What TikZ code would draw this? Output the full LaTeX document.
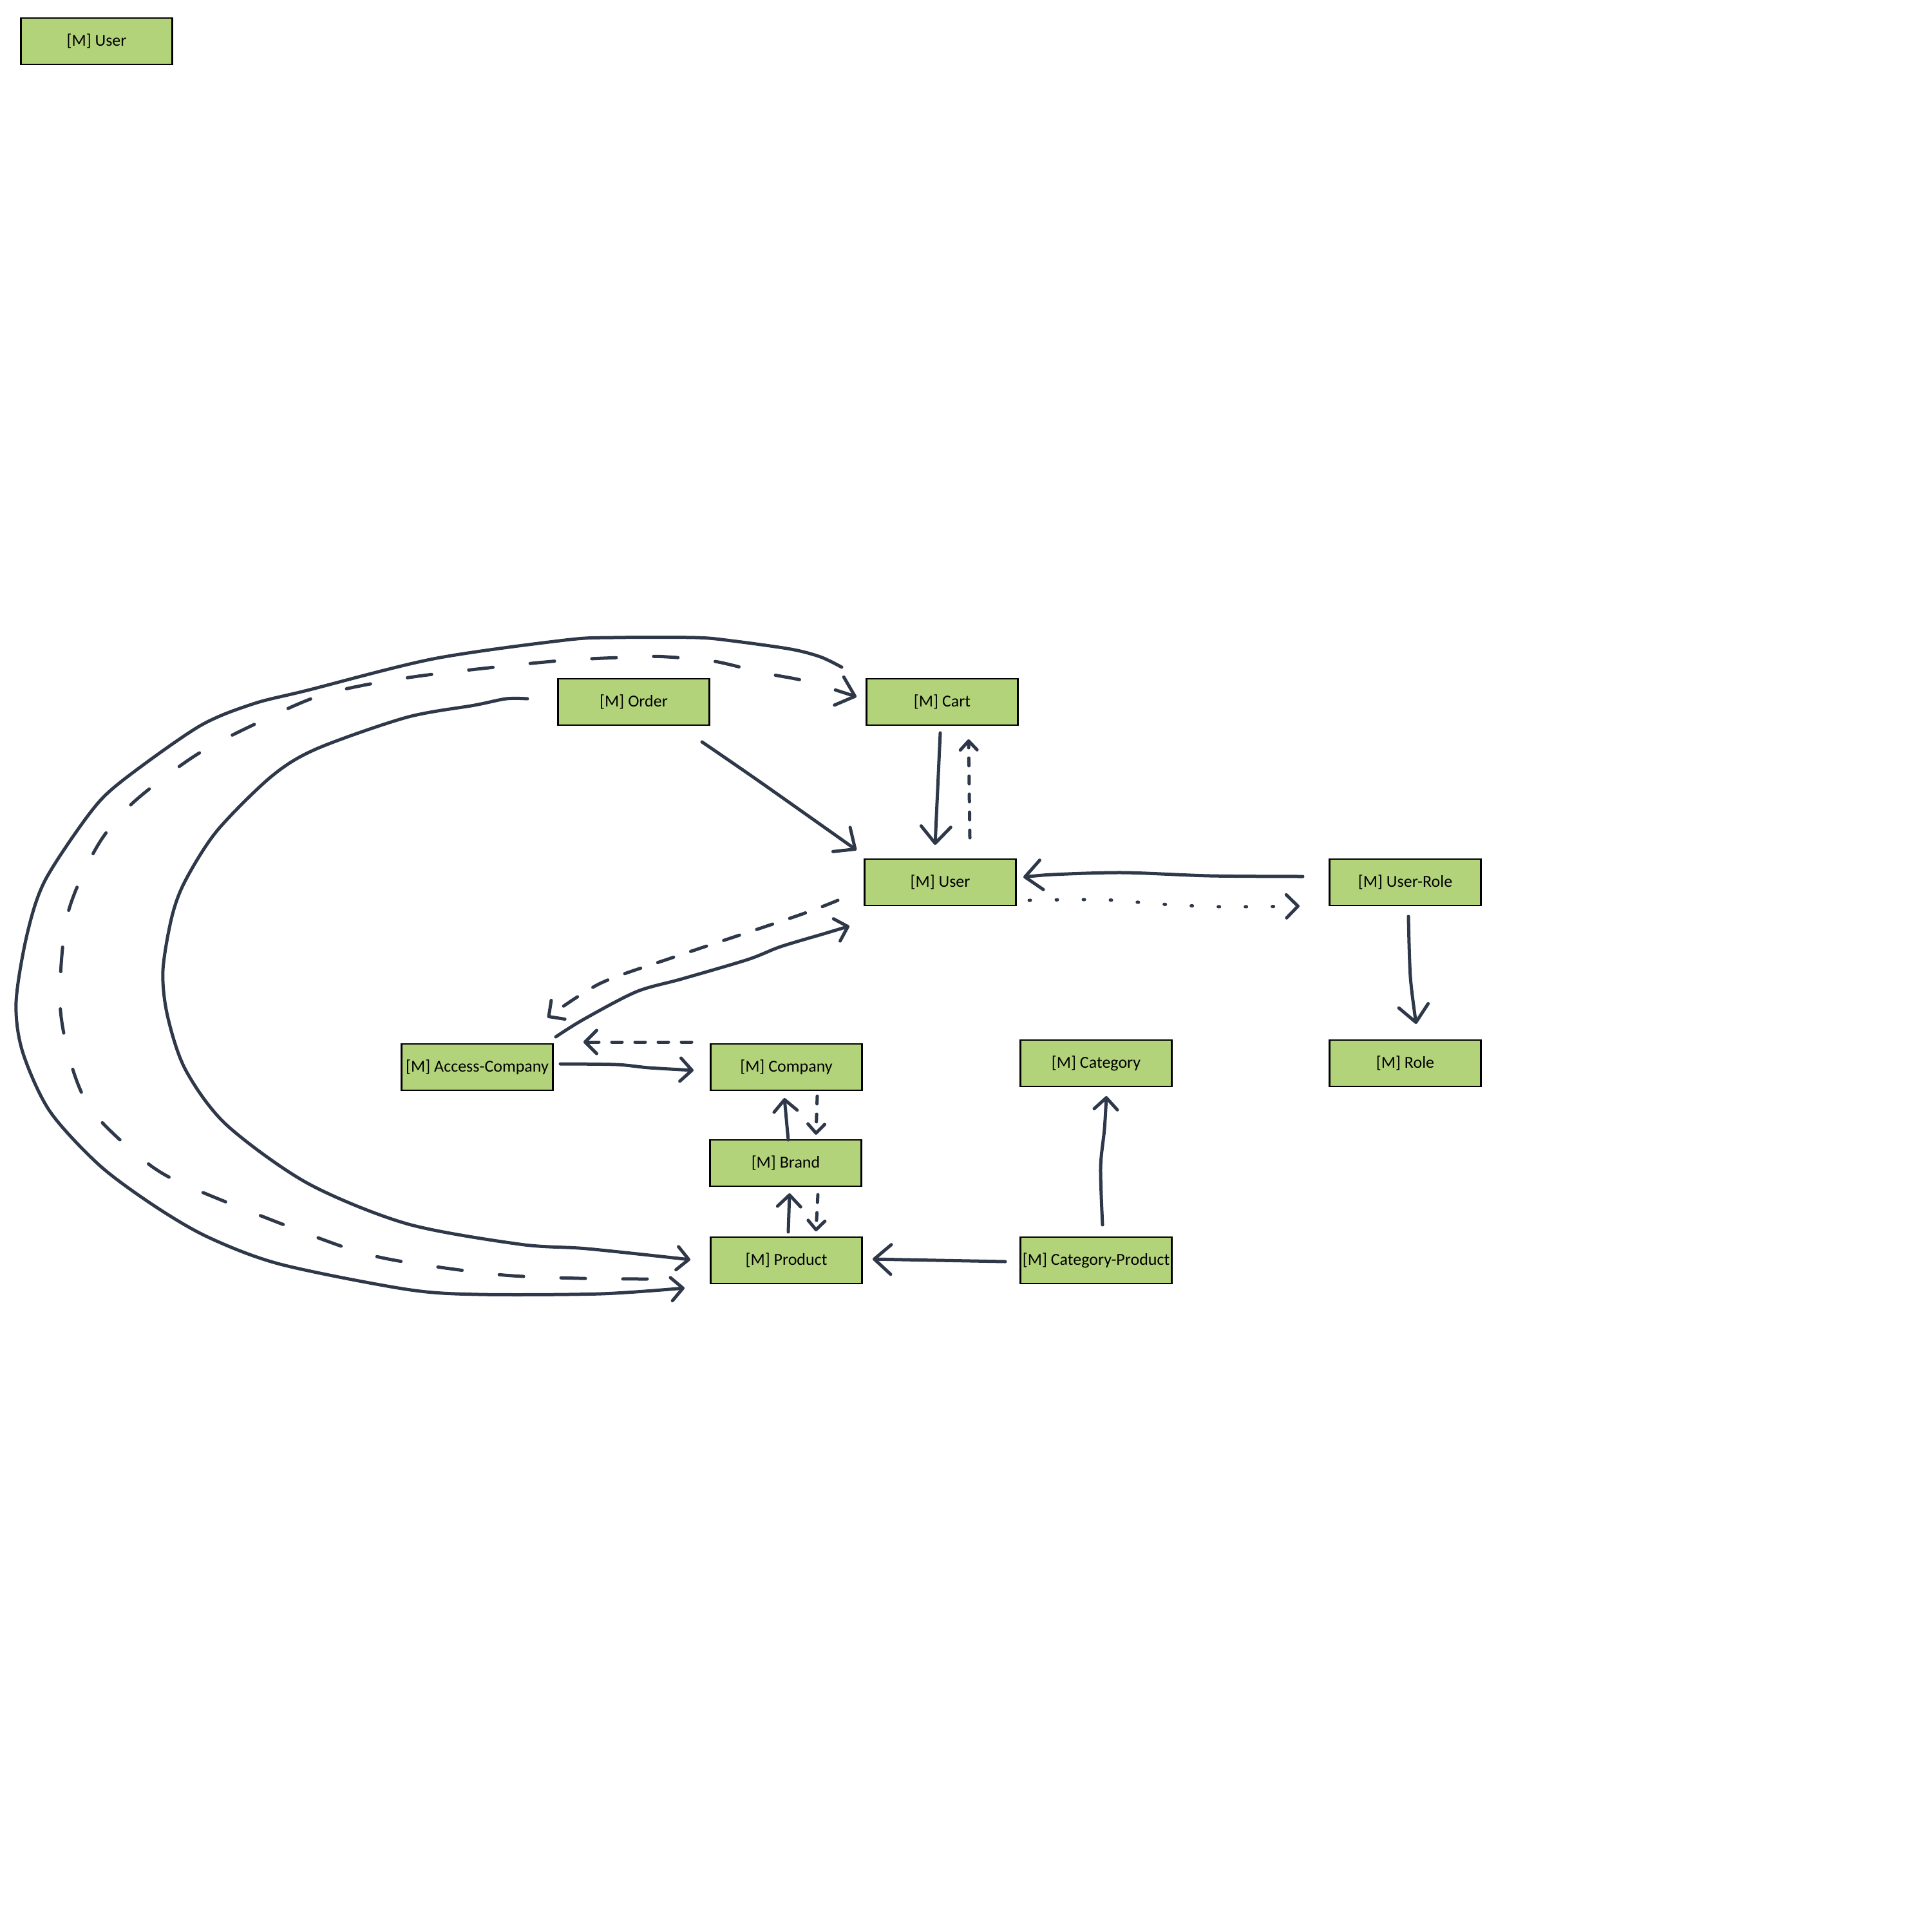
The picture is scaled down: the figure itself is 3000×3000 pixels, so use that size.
\documentclass[tikz,border=0pt]{standalone}
\usepackage{fontspec}
\setmainfont{Carlito}
\usetikzlibrary{arrows.meta}

\definecolor{boxfill}{RGB}{179,211,123}
\definecolor{linec}{RGB}{46,56,73}

\newcommand\lbl[1]{\makebox[0pt]{#1}}

\tikzset{
  box/.style={draw=black, line width=2.6pt, fill=boxfill, rectangle,
    minimum width=235pt, minimum height=72pt, inner sep=0pt,
    font=\fontsize{26}{31}\selectfont},
  conn/.style={draw=linec, line width=5pt, line cap=round, line join=round,
    -{Straight Barb[length=18pt,width=36pt,round]}},
  bigtip/.style={-{Straight Barb[length=26pt,width=46pt,round]}},
  smalltip/.style={-{Straight Barb[length=14pt,width=26pt,round]}},
  longdash/.style={dash pattern=on 38pt off 58pt},
  middash/.style={dash pattern=on 26pt off 28pt},
  shortdash/.style={dash pattern=on 12pt off 16pt},
  dotline/.style={dash pattern=on 2pt off 40pt}
}

\begin{document}
\begin{tikzpicture}[x=1pt, y=-1pt]
\useasboundingbox (0,0) rectangle (3000,3000);
\fill[white] (0,0) rectangle (3000,3000);

% entity boxes
\node[box] (user0)    at (150,64)    {\lbl{[M] User}};
\node[box] (order)    at (984,1090)  {\lbl{[M] Order}};
\node[box] (cart)     at (1463,1090) {\lbl{[M] Cart}};
\node[box] (muser)    at (1460,1370) {\lbl{[M] User}};
\node[box] (userrole) at (2182,1370) {\lbl{[M] User-Role}};
\node[box] (accomp)   at (741,1657)  {\lbl{[M] Access-Company}};
\node[box] (company)  at (1221,1657) {\lbl{[M] Company}};
\node[box] (category) at (1702,1651) {\lbl{[M] Category}};
\node[box] (role)     at (2182,1651) {\lbl{[M] Role}};
\node[box] (brand)    at (1220,1806) {\lbl{[M] Brand}};
\node[box] (product)  at (1221,1957) {\lbl{[M] Product}};
\node[box] (catprod)  at (1702,1957) {\lbl{[M] Category-Product}};

% Order -> User
\draw[conn, bigtip] plot[smooth] coordinates {([shift={(106,62)}]order.center)
  (1180,1214) ([shift={(-130,-50)}]muser.center)};

% Cart <-> User
\draw[conn, bigtip] ([shift={(-3,48)}]cart.center) -- ([shift={(-8,-58)}]muser.center);
\draw[conn, shortdash, smalltip] ([shift={(46,-69)}]muser.center) -- ([shift={(41,58)}]cart.center);

% User-Role <-> User
\draw[conn, bigtip] plot[smooth] coordinates {([shift={(-159,-9)}]userrole.center)
  (1879,1360) (1744,1355) (1635,1358) ([shift={(129,-8)}]muser.center)};
\draw[conn, dotline] plot[smooth] coordinates {([shift={(138,28)}]muser.center)
  (1711,1397) (1804,1404) (1896,1408) ([shift={(-164,37)}]userrole.center)};

% User-Role -> Role
\draw[conn, bigtip] plot[smooth] coordinates {([shift={(5,53)}]userrole.center)
  (2190,1517) ([shift={(17,-61)}]role.center)};

% User <-> Access-Company
\draw[conn, middash] plot[smooth] coordinates {([shift={(-159,28)}]muser.center)
  (1238,1422) (1044,1487) (932,1527) ([shift={(109,-77)}]accomp.center)};
\draw[conn] plot[smooth] coordinates {([shift={(122,-47)}]accomp.center)
  (906,1583) (988,1540) (1059,1520) (1161,1490) (1212,1470) (1279,1450)
  ([shift={(-141,68)}]muser.center)};

% Access-Company <-> Company
\draw[conn, dash pattern=on 16pt off 20pt] ([shift={(-147,-39)}]company.center) -- ([shift={(165,-39)}]accomp.center);
\draw[conn] plot[smooth] coordinates {([shift={(129,-5)}]accomp.center)
  (957,1653) (1008,1658) ([shift={(-144,5)}]company.center)};

% Company <-> Brand
\draw[conn] ([shift={(4,-36)}]brand.center) -- ([shift={(-3,48)}]company.center);
\draw[conn, shortdash, smalltip] ([shift={(48,45)}]company.center) -- ([shift={(47,-44)}]brand.center);

% Brand <-> Product
\draw[conn] ([shift={(3,-44)}]product.center) -- ([shift={(6,47)}]brand.center);
\draw[conn, shortdash, smalltip] ([shift={(50,49)}]brand.center) -- ([shift={(46,-45)}]product.center);

% Category-Product -> Product
\draw[conn, bigtip] plot[smooth] coordinates {([shift={(-141,2)}]catprod.center)
  (1402,1956) ([shift={(134,-2)}]product.center)};

% Category-Product -> Category
\draw[conn] plot[smooth] coordinates {([shift={(10,-55)}]catprod.center)
  (1709,1813) (1715,1753) ([shift={(16,51)}]category.center)};

% Cart -> Product, outer loop
\draw[conn] plot[smooth] coordinates {([shift={(-156,-54)}]cart.center)
  (1274,1020) (1228,1008) (1136,995) (1080,990) (952,990) (877,994)
  (673,1023) (477,1072) (393,1093) (309,1128) (189,1213) (140,1262)
  (70,1367) (42,1451) (25,1556) (35,1633) (77,1725) (154,1809)
  (239,1872) (323,1921) (435,1963) (631,2002) (744,2010) (933,2009)
  ([shift={(-158,43)}]product.center)};

% Product -> Cart, dashed loop
\draw[conn, longdash, bigtip] plot[smooth] coordinates {([shift={(-216,29)}]product.center)
  (900,1985) (772,1979) (603,1955) (502,1925) (281,1837) (207,1788)
  (140,1721) (109,1647) (93,1553) (105,1420) (151,1314) (207,1246)
  (305,1172) (403,1121) (504,1078) (642,1051) (857,1027) (989,1020)
  (1036,1020) (1110,1027) (1186,1045) (1253,1058)
  ([shift={(-133,-8)}]cart.center)};

% Order -> Product, inner loop
\draw[conn] plot[smooth] coordinates {([shift={(-165,-5)}]order.center)
  (786,1085) (737,1095) (631,1114) (491,1163) (421,1206) (337,1290)
  (288,1367) (267,1423) (253,1507) (260,1577) (288,1661) (351,1746)
  (477,1837) (631,1900) (807,1932) (912,1939)
  ([shift={(-149,-1)}]product.center)};
\end{tikzpicture}
\end{document}
